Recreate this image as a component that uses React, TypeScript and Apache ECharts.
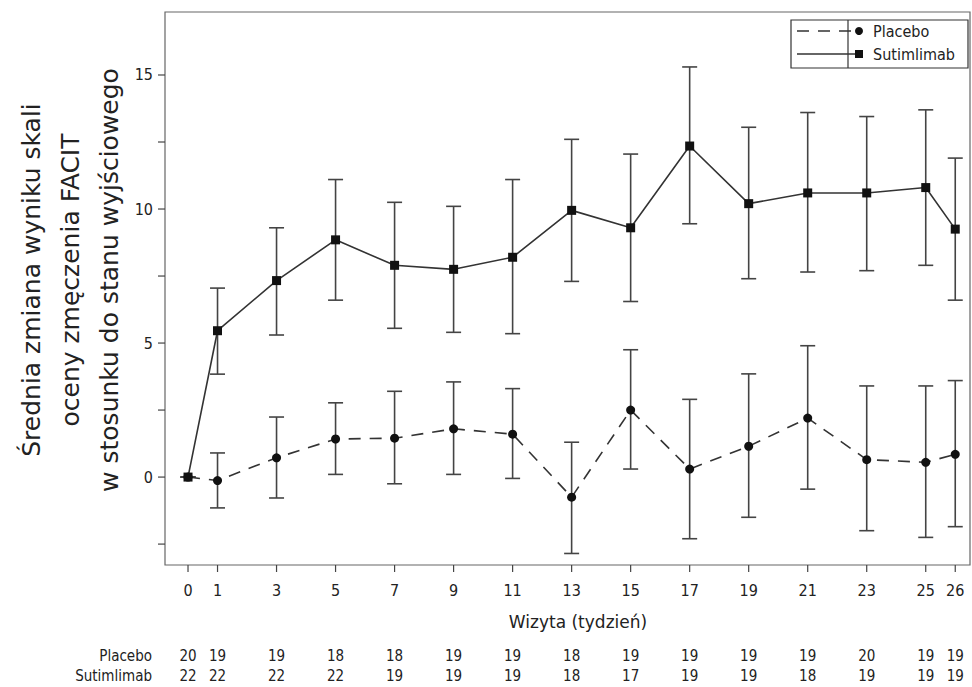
import { useEffect, useRef } from 'react';
import * as echarts from 'echarts';

const weeks = [0, 1, 3, 5, 7, 9, 11, 13, 15, 17, 19, 21, 23, 25, 26];

const placeboMean = [0, -0.13, 0.72, 1.42, 1.45, 1.8, 1.6, -0.75, 2.5, 0.3, 1.15, 2.2, 0.65, 0.55, 0.85];
const placeboLow = [0, -1.15, -0.78, 0.1, -0.25, 0.1, -0.05, -2.85, 0.3, -2.3, -1.5, -0.45, -2.0, -2.25, -1.85];
const placeboHigh = [0, 0.9, 2.24, 2.77, 3.2, 3.55, 3.3, 1.3, 4.75, 2.9, 3.85, 4.9, 3.4, 3.4, 3.6];

const sutMean = [0, 5.46, 7.33, 8.85, 7.9, 7.75, 8.2, 9.95, 9.3, 12.35, 10.2, 10.6, 10.6, 10.8, 9.25];
const sutLow = [0, 3.84, 5.3, 6.6, 5.55, 5.4, 5.35, 7.3, 6.55, 9.45, 7.4, 7.65, 7.7, 7.9, 6.6];
const sutHigh = [0, 7.05, 9.3, 11.1, 10.25, 10.1, 11.1, 12.6, 12.05, 15.3, 13.05, 13.6, 13.45, 13.7, 11.9];

const placeboN = [20, 19, 19, 18, 18, 19, 19, 18, 19, 19, 19, 19, 20, 19, 19];
const sutN = [22, 22, 22, 22, 19, 19, 19, 18, 17, 19, 19, 18, 19, 19, 19];

const yTicks = [-2.5, 0, 2.5, 5, 7.5, 10, 12.5, 15];
const yLabels = [0, 5, 10, 15];

const narrow = '"Liberation Sans Narrow", "DejaVu Sans Condensed", sans-serif';
const ink = '#222';

const errorBars = (low: number[], high: number[], name: string) => ({
  type: 'custom',
  name,
  z: 3,
  data: weeks.map((w, i) => [w, low[i], high[i]]),
  renderItem: (_p: any, api: any) => {
    const lo = api.coord([api.value(0), api.value(1)]);
    const hi = api.coord([api.value(0), api.value(2)]);
    const st = { stroke: '#444', lineWidth: 1.6 };
    return {
      type: 'group',
      children: [
        { type: 'line', shape: { x1: lo[0], y1: lo[1], x2: hi[0], y2: hi[1] }, style: st },
        { type: 'line', shape: { x1: lo[0] - 7.5, y1: lo[1], x2: lo[0] + 7.5, y2: lo[1] }, style: st },
        { type: 'line', shape: { x1: hi[0] - 7.5, y1: hi[1], x2: hi[0] + 7.5, y2: hi[1] }, style: st },
      ],
    };
  },
});

const App = () => {
  const chartRef = useRef<HTMLDivElement>(null);

  useEffect(() => {
    if (!chartRef.current) return;
    const chart = echarts.init(chartRef.current, undefined, { renderer: 'svg' });
    const option = {
      animation: false,
      grid: { left: 165, right: 2, top: 12, bottom: 122, show: true, borderColor: '#666', borderWidth: 1.2 },
      xAxis: {
        type: 'value', min: -0.78, max: 26.5,
        axisLine: { show: false }, axisTick: { show: false }, axisLabel: { show: false }, splitLine: { show: false },
      },
      yAxis: {
        type: 'value', min: -3.28, max: 17.35,
        axisLine: { show: false }, axisTick: { show: false }, axisLabel: { show: false }, splitLine: { show: false },
      },
      series: [
        errorBars(placeboLow, placeboHigh, 'pErr'),
        errorBars(sutLow, sutHigh, 'sErr'),
        {
          type: 'line', name: 'Placebo', z: 4,
          data: weeks.map((w, i) => [w, placeboMean[i]]),
          symbol: 'circle', symbolSize: 9,
          itemStyle: { color: '#111' },
          lineStyle: { color: '#333', width: 1.6, type: [12, 9] },
        },
        {
          type: 'line', name: 'Sutimlimab', z: 4,
          data: weeks.map((w, i) => [w, sutMean[i]]),
          symbol: 'rect', symbolSize: 9,
          itemStyle: { color: '#111' },
          lineStyle: { color: '#333', width: 1.6 },
        },
        {
          type: 'custom', name: 'xTicks', silent: true,
          data: weeks.map((w, i) => [w, placeboN[i], sutN[i]]),
          renderItem: (_p: any, api: any) => {
            const p = api.coord([api.value(0), -3.28]);
            const txt = (t: string, y: number, size: number) => ({
              type: 'text', x: p[0], y,
              style: { text: t, fill: ink, font: `${size}px ${narrow}`, align: 'center', verticalAlign: 'middle' },
            });
            return {
              type: 'group',
              children: [
                { type: 'line', shape: { x1: p[0], y1: p[1], x2: p[0], y2: p[1] + 7 }, style: { stroke: '#444', lineWidth: 1.2 } },
                txt(String(api.value(0)), 590, 16),
                txt(String(api.value(1)), 656, 15),
                txt(String(api.value(2)), 676, 15),
              ],
            };
          },
        },
        {
          type: 'custom', name: 'yTicks', silent: true,
          data: yTicks.map((v) => [-0.78, v]),
          renderItem: (_p: any, api: any) => {
            const v = api.value(1);
            const p = api.coord([-0.78, v]);
            const children: any[] = [
              { type: 'line', shape: { x1: p[0] - 7, y1: p[1], x2: p[0], y2: p[1] }, style: { stroke: '#444', lineWidth: 1.2 } },
            ];
            if (yLabels.includes(v)) {
              children.push({
                type: 'text', x: p[0] - 12, y: p[1],
                style: { text: String(v), fill: ink, font: `16px ${narrow}`, align: 'right', verticalAlign: 'middle' },
              });
            }
            return { type: 'group', children };
          },
        },
      ],
      graphic: [
        ...['Średnia zmiana wyniku skali', 'oceny zmęczenia FACIT', 'w stosunku do stanu wyjściowego'].map((t, i) => ({
          type: 'text', x: 31 + i * 39, y: 280, rotation: Math.PI / 2,
          style: { text: t, fill: ink, font: '25px "DejaVu Sans", sans-serif', align: 'center', verticalAlign: 'middle' },
        })),
        {
          type: 'text', x: 578, y: 622,
          style: { text: 'Wizyta (tydzień)', fill: ink, font: '17px "DejaVu Sans", sans-serif', align: 'center', verticalAlign: 'middle' },
        },
        {
          type: 'text', x: 152, y: 656,
          style: { text: 'Placebo', fill: ink, font: `15px ${narrow}`, align: 'right', verticalAlign: 'middle' },
        },
        {
          type: 'text', x: 152, y: 676,
          style: { text: 'Sutimlimab', fill: ink, font: `15px ${narrow}`, align: 'right', verticalAlign: 'middle' },
        },
        { type: 'rect', shape: { x: 791, y: 20, width: 177, height: 48 }, style: { fill: '#fff', stroke: '#333', lineWidth: 1.2 } },
        { type: 'line', shape: { x1: 848, y1: 20, x2: 848, y2: 68 }, style: { stroke: '#333', lineWidth: 1.2 } },
        { type: 'line', shape: { x1: 797, y1: 31, x2: 858, y2: 31 }, style: { stroke: '#333', lineWidth: 1.5, lineDash: [12, 9] } },
        { type: 'circle', shape: { cx: 859, cy: 31, r: 4 }, style: { fill: '#111' } },
        { type: 'line', shape: { x1: 797, y1: 54, x2: 858, y2: 54 }, style: { stroke: '#333', lineWidth: 1.5 } },
        { type: 'rect', shape: { x: 855, y: 50, width: 8, height: 8 }, style: { fill: '#111' } },
        { type: 'text', x: 873, y: 31, style: { text: 'Placebo', fill: ink, font: `16px ${narrow}`, verticalAlign: 'middle' } },
        { type: 'text', x: 873, y: 54, style: { text: 'Sutimlimab', fill: ink, font: `16px ${narrow}`, verticalAlign: 'middle' } },
      ],
    };
    chart.setOption(option);
    return () => chart.dispose();
  }, []);

  return <div ref={chartRef} style={{ width: 972, height: 687, position: 'absolute', left: 0, top: 0, background: '#fff' }} />;
};

export default App;
